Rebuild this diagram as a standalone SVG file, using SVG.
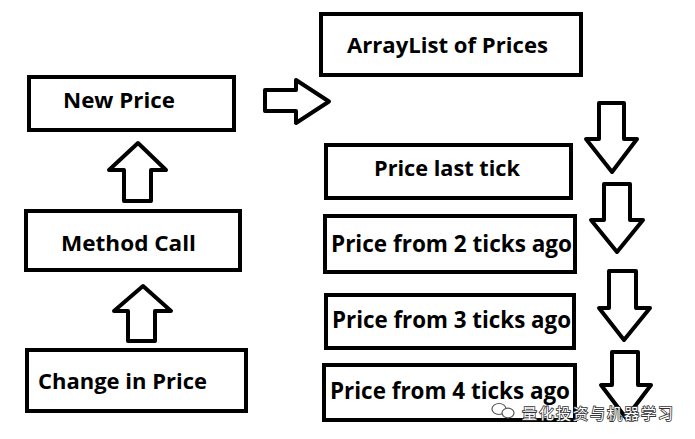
<svg xmlns="http://www.w3.org/2000/svg" width="695" height="439" viewBox="0 0 695 439">
<style>
.box{fill:#fff;stroke:#000;stroke-width:4}
.arr{fill:#fff;stroke:#000;stroke-width:4;stroke-linejoin:round}
.lbl{font-family:"Open Sans","Noto Sans","DejaVu Sans",sans-serif;font-weight:700;fill:#000}
.wm{font-family:"Noto Sans CJK SC",sans-serif;font-size:15px;fill:#fff;stroke:#333;stroke-width:1.6;paint-order:stroke;letter-spacing:2px}
</style>
<rect width="695" height="439" fill="#fff"/>
<g id="connectors">
<polygon class="arr" points="265,90 296,90 296,80 329,101.5 296,123 296,111 265,111"/>
<polygon class="arr" points="138,143 166,170 151,170 151,201 124,201 124,170 109,170"/>
<polygon class="arr" points="143,286 171,311 155,311 155,341 128,341 128,311 114,311"/>
<polygon class="arr" points="599,103 624,103 624,139 637,139 612,172 586,139 599,139"/>
<polygon class="arr" points="604,184 630,184 630,220 643,220 617,252 591,220 604,220"/>
<polygon class="arr" points="609,271 636,271 636,308 650,308 624,340 599,308 609,308"/>
<polygon class="arr" points="612,352 638,352 638,385 651,385 626,418 601,385 612,385"/>
</g>
<g id="arraylist">
<rect class="box" x="321" y="14" width="260" height="61"/>
<text class="lbl" x="347" y="53" font-size="22" textLength="201" lengthAdjust="spacingAndGlyphs">ArrayList of Prices</text>
</g>
<g id="new-price">
<rect class="box" x="29" y="77" width="205" height="53"/>
<text class="lbl" x="63" y="108" font-size="22" textLength="112" lengthAdjust="spacingAndGlyphs">New Price</text>
</g>
<g id="method-call">
<rect class="box" x="26" y="211" width="214" height="59"/>
<text class="lbl" x="61" y="251" font-size="22" textLength="135" lengthAdjust="spacingAndGlyphs">Method Call</text>
</g>
<g id="change-in-price">
<rect class="box" x="27" y="350" width="219" height="61"/>
<text class="lbl" x="38" y="389" font-size="22" textLength="169" lengthAdjust="spacingAndGlyphs">Change in Price</text>
</g>
<g id="price-last-tick">
<rect class="box" x="326" y="145" width="245" height="53"/>
<text class="lbl" x="374" y="176" font-size="22" textLength="146" lengthAdjust="spacingAndGlyphs">Price last tick</text>
</g>
<g id="price-2">
<rect class="box" x="325" y="216" width="250" height="56"/>
<text class="lbl" x="331" y="252" font-size="24" textLength="241" lengthAdjust="spacingAndGlyphs">Price from 2 ticks ago</text>
</g>
<g id="price-3">
<rect class="box" x="326" y="295" width="248" height="53"/>
<text class="lbl" x="332" y="328" font-size="24" textLength="239" lengthAdjust="spacingAndGlyphs">Price from 3 ticks ago</text>
</g>
<g id="price-4">
<rect class="box" x="324" y="365" width="251" height="55"/>
<text class="lbl" x="330" y="399" font-size="24" textLength="240" lengthAdjust="spacingAndGlyphs">Price from 4 ticks ago</text>
</g>
<g id="watermark">
<ellipse cx="499" cy="409" rx="7" ry="5.5" fill="#fff" stroke="#555" stroke-width="1.2"/>
<ellipse cx="508" cy="413" rx="6" ry="4.8" fill="#fff" stroke="#555" stroke-width="1.2"/>
<text class="wm" x="522" y="419">量化投资与机器学习</text>
</g>
</svg>
